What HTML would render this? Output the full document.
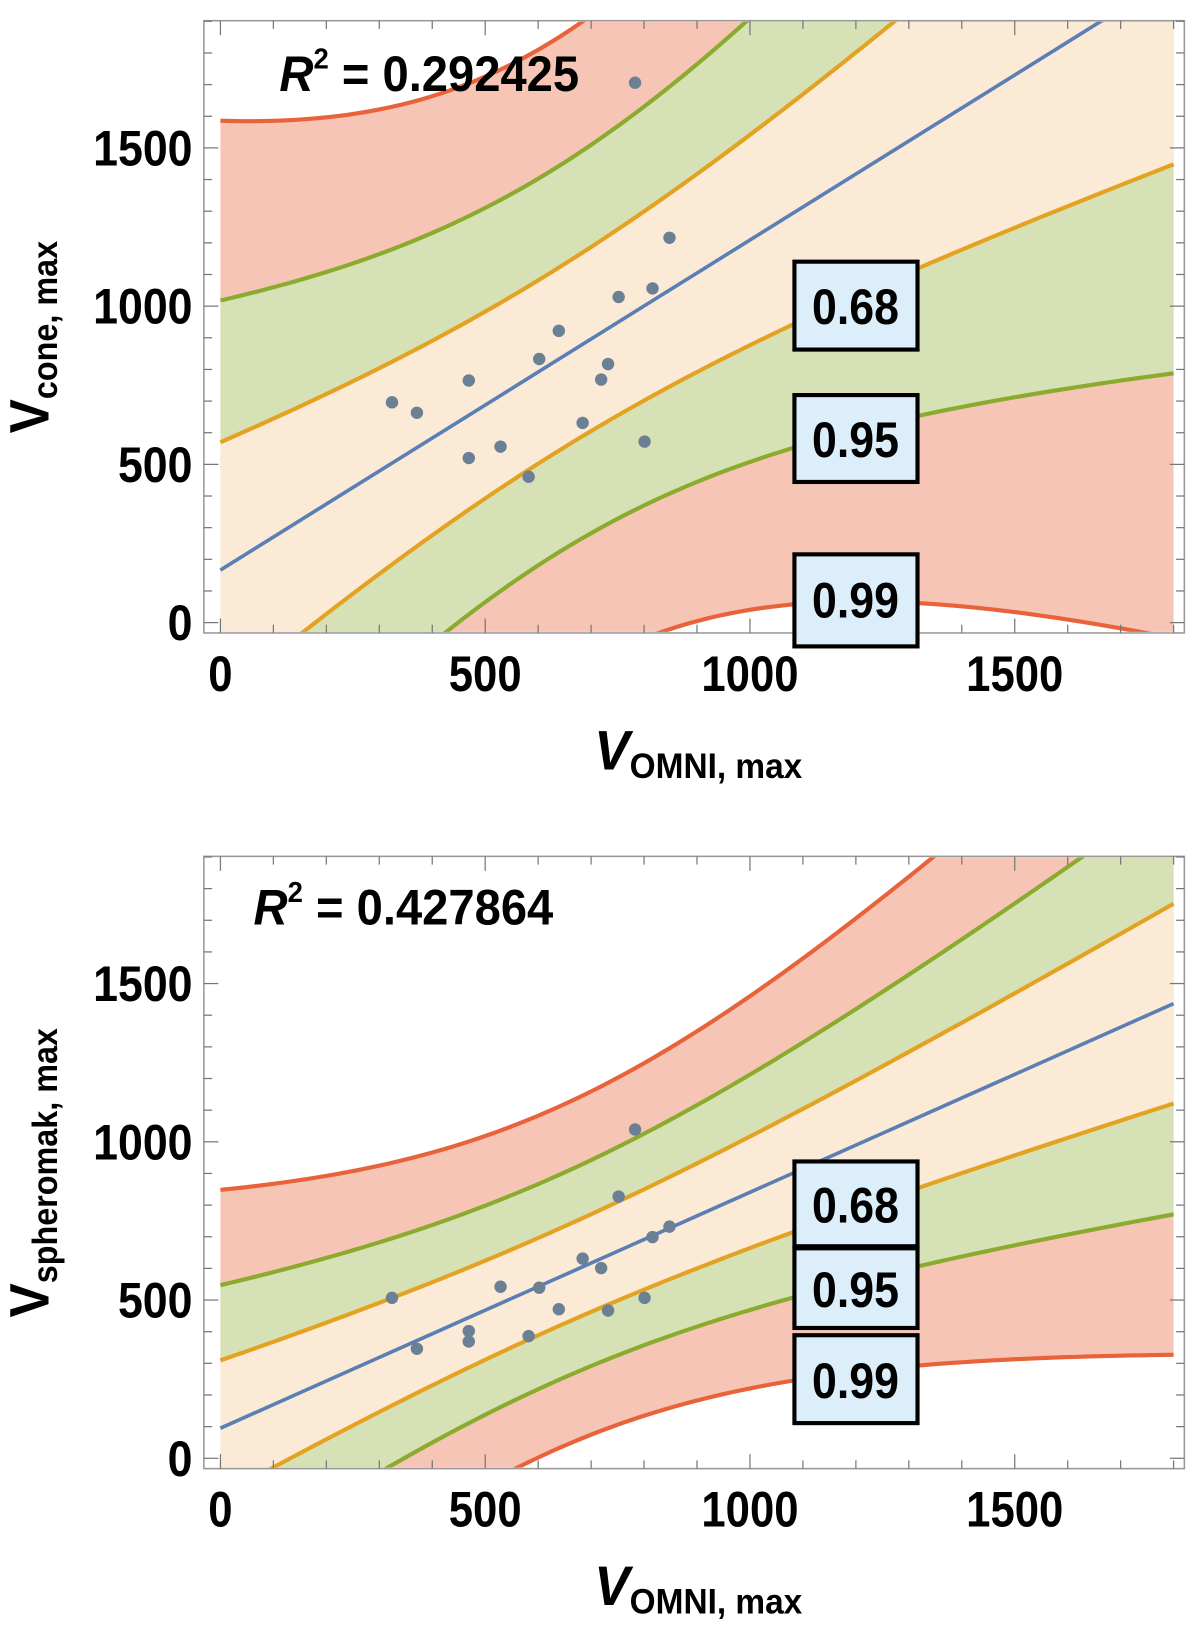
<!DOCTYPE html>
<html><head><meta charset="utf-8"><style>
html,body{margin:0;padding:0;background:#fff}
svg{display:block}
text{font-family:"Liberation Sans",sans-serif;font-weight:bold}
</style></head><body>
<svg id="chart" width="1200" height="1631" viewBox="0 0 1160 1577" xmlns="http://www.w3.org/2000/svg"></svg>
<script>
const vOmni = [324,371,469,469,529,582,602,639,684,719,732,752,783,801,816,848];
const vCone = [696,663,765,520,556,461,833,922,631,768,817,1029,1706,572,1056,1216];
const vSpher = [507,346,402,369,542,386,539,471,631,601,467,827,1039,507,699,732];
const levels = ["0.99","0.95","0.68"];
const tValues = [3.6,2.16,1.024];
const xTicks = [0,500,1000,1500];
const yTicks = [0,500,1000,1500];
const r2Labels = ["0.292425","0.427864"];

const NS="http://www.w3.org/2000/svg";
const svg=document.getElementById('chart');
function mk(tag,attrs,parent){const e=document.createElementNS(NS,tag);for(const k in attrs)e.setAttribute(k,attrs[k]);(parent||svg).appendChild(e);return e;}
function txt(parent,x,y,anchor,size,sx){return mk('text',{x:0,y:0,'text-anchor':anchor,'font-size':size,transform:'translate('+x+','+y+') scale('+sx+',1)'},parent);}
const fills={"0.99":"#f6c5b6","0.95":"#d6e2b6","0.68":"#fbebd6"};
const strokes={"0.99":"#e8623a","0.95":"#8aab2e","0.68":"#e3a222"};

function panel(ys,idx,y0px,top,bottom,ylabel,boxes,r2pos){
  const xs=v=>213+v*0.512, yy=v=>y0px-v*0.306;
  const g=mk('g',{});
  
  
  const cid='clip'+idx;
  const cp=mk('clipPath',{id:cid},g);mk('rect',{x:198,y:top+1,width:946,height:bottom-top-2},cp);
  const n=vOmni.length;const xm=vOmni.reduce((a,b)=>a+b)/n, ym=ys.reduce((a,b)=>a+b)/n;
  let sxx=0,sxy=0;for(let i=0;i<n;i++){sxx+=(vOmni[i]-xm)**2;sxy+=(vOmni[i]-xm)*(ys[i]-ym);}
  const b=sxy/sxx,a=ym-b*xm;let sse=0;for(let i=0;i<n;i++)sse+=(ys[i]-a-b*vOmni[i])**2;
  const s=Math.sqrt(sse/(n-2));
  const cg=mk('g',{'clip-path':'url(#'+cid+')'},g);
  const pts=[];for(let x=0;x<=1800;x+=20)pts.push(x);
  levels.forEach((lv,k)=>{
    const t=tValues[k];
    const h=x=>t*s*Math.sqrt(1+1/n+(x-xm)**2/sxx);
    const up=pts.map(x=>[xs(x),yy(a+b*x+h(x))]), lo=pts.map(x=>[xs(x),yy(a+b*x-h(x))]);
    const band=mk('path',{d:'M'+up.map(p=>p.join(',')).join('L')+'L'+lo.slice().reverse().map(p=>p.join(',')).join('L')+'Z',fill:fills[lv]},cg);
    
    
    [up,lo].forEach((arr,j)=>{const l=mk('path',{d:'M'+arr.map(p=>p.join(',')).join('L'),fill:'none',stroke:strokes[lv],'stroke-width':4},cg);
      
      });
  });
  const fit=mk('line',{x1:xs(0),y1:yy(a),x2:xs(1800),y2:yy(a+b*1800),stroke:'#5b7fb5','stroke-width':3.5},cg);
  
  
  vOmni.forEach((x,i)=>{const c=mk('circle',{cx:xs(x),cy:yy(ys[i]),r:6,fill:'#6b7f95'},cg);
    
    });
  const fr=mk('rect',{x:197,y:top,width:948,height:bottom-top,fill:'none',stroke:'#999','stroke-width':1.5},g);
  
  
  for(let v=0;v<=1800;v+=100){const big=v%500===0;const L=big?14:8;
    mk('line',{x1:xs(v),y1:bottom,x2:xs(v),y2:bottom-L,stroke:'#777','stroke-width':1.2},g);
    mk('line',{x1:xs(v),y1:top,x2:xs(v),y2:top+L,stroke:'#777','stroke-width':1.2},g);}
  for(let v=0;v<=1900;v+=100){const yp=yy(v);if(yp<top)break;const big=v%500===0;const L=big?14:8;
    mk('line',{x1:197,y1:yp,x2:197+L,y2:yp,stroke:'#777','stroke-width':1.2},g);
    mk('line',{x1:1145,y1:yp,x2:1145-L,y2:yp,stroke:'#777','stroke-width':1.2},g);}
  xTicks.forEach(v=>{const t=txt(g,xs(v),bottom+56,'middle',48,0.88);t.textContent=v;
    
    });
  yTicks.forEach(v=>{const t=txt(g,186,yy(v)+17,'end',48,0.9);t.textContent=v;
    
    });
  const xl=txt(g,675,bottom+132,'middle',48,0.95);
  xl.innerHTML='<tspan font-style="italic" font-size="54">V</tspan><tspan font-size="34" dy="8">OMNI, max</tspan>';
  
  
  const cy=(top+bottom)/2+10;
  const yl=mk('text',{x:0,y:0,'text-anchor':'middle','font-size':48,transform:'translate(47,'+cy+') rotate(-90) scale(0.92,1)'},g);
  yl.innerHTML='<tspan font-size="54">V</tspan><tspan font-size="34" dy="8">'+ylabel+'</tspan>';
  
  
  const r=txt(g,r2pos[0],r2pos[1],'start',48,0.95);
  r.innerHTML='<tspan font-style="italic">R</tspan><tspan font-size="28" dy="-22">2</tspan><tspan dy="22"> = '+r2Labels[idx]+'</tspan>';
  
  
  boxes.forEach((bx,k)=>{const bg=mk('g',{},g);
    
    
    mk('rect',{x:768,y:bx[1],width:119,height:bx[2]-bx[1],fill:'#ddeefb',stroke:'#000','stroke-width':4},bg);
    const t=txt(bg,827,(bx[1]+Math.min(bx[2],bottom+10))/2+18,'middle',48,0.9);t.textContent=bx[0];});
}
panel(vCone,0,602,20,612,'cone, max',[["0.68",253,338],["0.95",382,466],["0.99",536,625]],[270,88]);
panel(vSpher,1,1410,828,1420,'spheromak, max',[["0.68",1123,1205],["0.95",1207,1284],["0.99",1291,1376]],[245,894]);
</script>
</body></html>
